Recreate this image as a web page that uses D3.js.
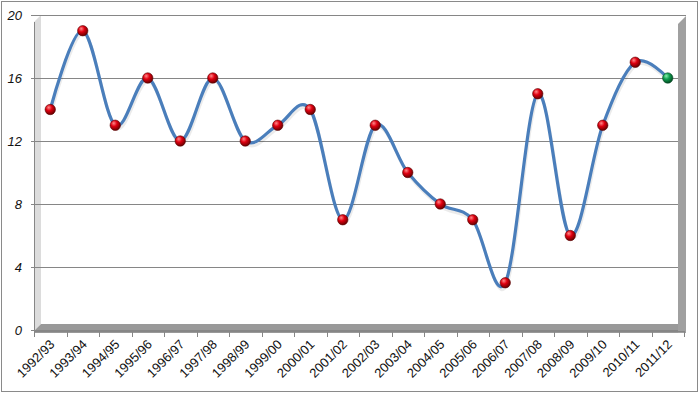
<!DOCTYPE html>
<html>
<head>
<meta charset="utf-8">
<script src="https://cdn.jsdelivr.net/npm/d3@7"></script>
<style>
  body { margin: 0; background: #fff; }
  #chart { width: 700px; height: 393px; }
  .axis path { display: none; }
</style>
</head>
<body>
<div id="chart"></div>
<script>
// seasons on the x axis
const seasons = ["1992/93", "1993/94", "1994/95", "1995/96", "1996/97", "1997/98", "1998/99",
    "1999/00", "2000/01", "2001/02", "2002/03", "2003/04", "2004/05", "2005/06", "2006/07",
    "2007/08", "2008/09", "2009/10", "2010/11", "2011/12"];
// values
const values = [14, 19, 13, 16, 12, 16, 12, 13, 14, 7, 13, 10, 8, 7, 3, 15, 6, 13, 17, 16];
const yTicks = [0, 4, 8, 12, 16, 20];

let div = document.getElementById("chart");
let divWidth = 700, divHeight = 393;

let svg = d3.select(div).append("svg")
    .attr("width", divWidth)
    .attr("height", divHeight);

svg.append("rect")
    .attr("x", 0).attr("y", 0)
    .attr("width", divWidth).attr("height", divHeight)
    .attr("fill", "#fff");

// outer chart border
svg.append("rect")
    .attr("x", 1.5).attr("y", 1.5)
    .attr("width", 696).attr("height", 390)
    .attr("fill", "none")
    .attr("stroke", "#8a8a8a");

let defs = svg.append("defs");
function ballGradient(id, light, mid, dark) {
    let gr = defs.append("radialGradient").attr("id", id)
        .attr("cx", "40%").attr("cy", "35%").attr("r", "65%")
        .attr("fx", "35%").attr("fy", "30%");
    gr.append("stop").attr("offset", "0%").attr("stop-color", light);
    gr.append("stop").attr("offset", "45%").attr("stop-color", mid);
    gr.append("stop").attr("offset", "100%").attr("stop-color", dark);
}
ballGradient("ball-red", "#ff8a8a", "#e00010", "#6a0000");
ballGradient("ball-green", "#8af0b0", "#10a050", "#004a20");

// scales
let x = d3.scaleBand().domain(seasons).range([34, 684]);
let y = d3.scaleLinear().domain([0, 20]).range([330, 15]);

// left wall (light) and floor (dark slab)
svg.append("polygon")
    .attr("points", [[34, 22], [41, 15], [41, 324], [34, 331]].join(" "))
    .attr("fill", "#dcdcdc");

svg.append("polygon")
    .attr("points", [[34, 331], [41, 324], [686, 324], [686, 333], [34, 333]].join(" "))
    .attr("fill", "#999");

// gridlines
svg.append("g")
    .attr("class", "axis grid")
    .attr("transform", "translate(31,0)")
    .call(d3.axisLeft(y).tickValues(yTicks).tickSize(-655).tickFormat(""))
    .selectAll("line")
    .attr("stroke", "#868686");

// right wall
svg.append("polygon")
    .attr("points", [[678, 24], [686, 16], [686, 333], [678, 333]].join(" "))
    .attr("fill", "#a0a0a0");

// left axis line
svg.append("line")
    .attr("x1", 34.5).attr("x2", 34.5)
    .attr("y1", 22).attr("y2", 333)
    .attr("stroke", "#868686");

// y labels
let yAxis = svg.append("g")
    .attr("class", "axis axis--y")
    .attr("transform", "translate(31,0)")
    .call(d3.axisLeft(y).tickValues(yTicks).tickSize(0).tickPadding(9));
yAxis.selectAll("text")
    .attr("font-family", "Liberation Sans, sans-serif")
    .attr("font-size", 13)
    .attr("font-style", "italic")
    .attr("fill", "#111");

// x axis line + ticks between categories
svg.append("line")
    .attr("x1", 34).attr("x2", 685)
    .attr("y1", 331.5).attr("y2", 331.5)
    .attr("stroke", "#868686");

svg.append("g").selectAll("line")
    .data(seasons.concat(["end"]))
    .enter().append("line")
    .attr("x1", (d, i) => Math.round(i < seasons.length ? x(d) : x.range()[1]) + 0.5)
    .attr("x2", (d, i) => Math.round(i < seasons.length ? x(d) : x.range()[1]) + 0.5)
    .attr("y1", 331).attr("y2", 337)
    .attr("stroke", "#868686");

let xAxis = svg.append("g")
    .attr("class", "axis axis--x")
    .attr("transform", "translate(0,331)")
    .call(d3.axisBottom(x).tickSize(0).tickPadding(0));
xAxis.selectAll("text")
    .attr("font-family", "Liberation Sans, sans-serif")
    .attr("font-size", 13)
    .attr("fill", "#111")
    .attr("text-anchor", "end")
    .attr("dy", "0.35em")
    .attr("transform", "translate(2,11) rotate(-45)");

// smoothed line
let pts = seasons.map((s, i) => ({ x: s, y: values[i] }));
let line = d3.line()
    .x(d => x(d.x) + x.bandwidth() / 2)
    .y(d => y(d.y))
    .curve(d3.curveCardinal.tension(0));

svg.append("path")
    .attr("d", line(pts))
    .attr("fill", "none")
    .attr("stroke", "rgba(0,0,0,0.08)")
    .attr("stroke-width", 3)
    .attr("transform", "translate(1,3)");

svg.append("path")
    .attr("d", line(pts))
    .attr("fill", "none")
    .attr("stroke", "#4a7ebb")
    .attr("stroke-width", 3.2)
    .attr("stroke-linecap", "round");

// markers
svg.append("g").selectAll("circle")
    .data(pts)
    .enter().append("circle")
    .attr("cx", d => x(d.x) + x.bandwidth() / 2)
    .attr("cy", d => y(d.y))
    .attr("r", 5.2)
    .attr("fill", (d, i) => i === pts.length - 1 ? "url(#ball-green)" : "url(#ball-red)")
    .attr("stroke", (d, i) => i === pts.length - 1 ? "#0a4a2a" : "#5a0000")
    .attr("stroke-width", 0.6);
</script>
</body>
</html>
